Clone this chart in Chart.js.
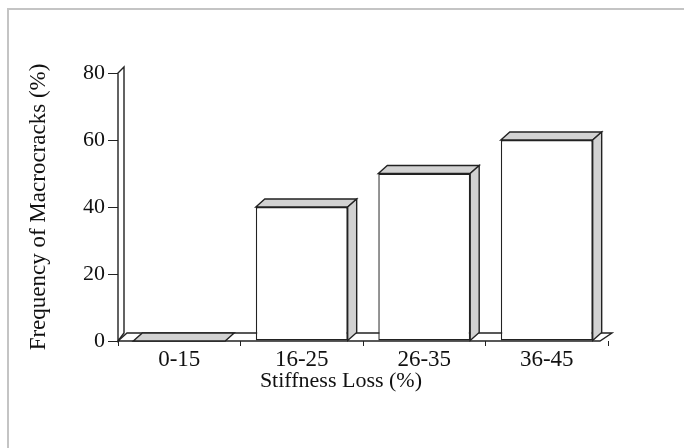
<!DOCTYPE html>
<html>
<head>
<meta charset="utf-8">
<script src="https://cdn.jsdelivr.net/npm/chart.js@4"></script>
<style>
  html, body { margin: 0; padding: 0; background: #fff; }
  #wrap { position: relative; width: 684px; height: 448px; overflow: hidden; }
  #frame { position: absolute; left: 7px; top: 8px; width: 700px; height: 500px; border: 2px solid #c4c4c4; }
  canvas { position: absolute; left: 0; top: 0; }
</style>
</head>
<body>
<div id="wrap">
  <div id="frame"></div>
  <canvas id="myChart" width="684" height="448"></canvas>
</div>
<script>
// Chart data
const categories = ['0-15', '16-25', '26-35', '36-45'];
const frequency = [0, 40, 50, 60];
const yTicks = [0, 20, 40, 60, 80];
const xTitle = 'Stiffness Loss (%)';
const yTitle = 'Frequency of Macrocracks (%)';

const serif = '"Liberation Serif", "DejaVu Serif", serif';
const ink = '#222';
const shade = '#d2d2d2';
const DX = 9, DY = 8; // depth of the 3D effect

// Draws the floor, the left wall and the top/side faces of the bars
const depthPlugin = {
    id: 'depth',
    beforeDatasetsDraw(chart) {
        const { ctx, chartArea: a } = chart;
        ctx.save();
        ctx.lineWidth = 1.4;
        ctx.strokeStyle = ink;
        ctx.fillStyle = '#fff';
        // wall
        ctx.beginPath();
        ctx.moveTo(a.left, a.bottom);
        ctx.lineTo(a.left, a.top);
        ctx.lineTo(a.left + 6, a.top - 6);
        ctx.lineTo(a.left + 6, a.bottom - DY);
        ctx.closePath();
        ctx.fill();
        ctx.stroke();
        // floor
        ctx.beginPath();
        ctx.moveTo(a.left, a.bottom);
        ctx.lineTo(a.right - 8, a.bottom);
        ctx.lineTo(a.right + 4, a.bottom - DY);
        ctx.lineTo(a.left + DX, a.bottom - DY);
        ctx.closePath();
        ctx.fill();
        ctx.stroke();
        ctx.restore();
    },
    afterDatasetsDraw(chart) {
        const { ctx } = chart;
        const meta = chart.getDatasetMeta(0);
        ctx.save();
        ctx.lineWidth = 1.4;
        ctx.strokeStyle = ink;
        ctx.fillStyle = shade;
        meta.data.forEach(bar => {
            const { x, y, base, width } = bar.getProps(['x', 'y', 'base', 'width'], true);
            const x0 = x - width / 2, x1 = x + width / 2;
            // top face
            ctx.beginPath();
            ctx.moveTo(x0, y);
            ctx.lineTo(x0 + DX, y - DY);
            ctx.lineTo(x1 + DX, y - DY);
            ctx.lineTo(x1, y);
            ctx.closePath();
            ctx.fill();
            ctx.stroke();
            // side face
            if (base - y > 0.5) {
                ctx.beginPath();
                ctx.moveTo(x1, y);
                ctx.lineTo(x1 + DX, y - DY);
                ctx.lineTo(x1 + DX, base - DY);
                ctx.lineTo(x1, base);
                ctx.closePath();
                ctx.fill();
                ctx.stroke();
            }
        });
        ctx.restore();
    },
    // x axis title sits a little left of the plot centre in the original
    afterDraw(chart) {
        const { ctx, chartArea: a } = chart;
        ctx.save();
        ctx.font = '22px ' + serif;
        ctx.fillStyle = '#111';
        ctx.textAlign = 'center';
        ctx.textBaseline = 'middle';
        ctx.fillText(xTitle, a.left + (a.right - a.left) * 0.455, a.bottom + 40);
        ctx.restore();
    }
};

new Chart(document.getElementById('myChart'), {
    type: 'bar',
    data: {
        labels: categories,
        datasets: [{
            data: frequency,
            backgroundColor: '#fff',
            borderColor: ink,
            borderWidth: 1.4,
            borderSkipped: false,
            categoryPercentage: 1,
            barPercentage: 0.75
        }]
    },
    options: {
        responsive: false,
        animation: false,
        layout: { padding: { left: 21, top: 73, right: 76, bottom: 47 } },
        plugins: { legend: { display: false }, tooltip: { enabled: false } },
        scales: {
            x: {
                grid: { display: true, drawOnChartArea: false, tickLength: 5, color: ink, offset: true },
                border: { display: false },
                ticks: { color: '#111', padding: 0, font: { family: serif, size: 23 } },
                afterFit(s) { s.height = 60; }
            },
            y: {
                min: 0,
                max: 80,
                afterBuildTicks(s) { s.ticks = yTicks.map(v => ({ value: v })); },
                grid: { display: true, drawOnChartArea: false, tickLength: 10, color: ink },
                border: { display: false },
                ticks: { color: '#111', padding: 3, font: { family: serif, size: 22 } },
                title: { display: true, text: yTitle, color: '#111', font: { family: serif, size: 23 } },
                afterFit(s) { s.width = 97; }
            }
        }
    },
    plugins: [depthPlugin]
});
</script>
</body>
</html>
